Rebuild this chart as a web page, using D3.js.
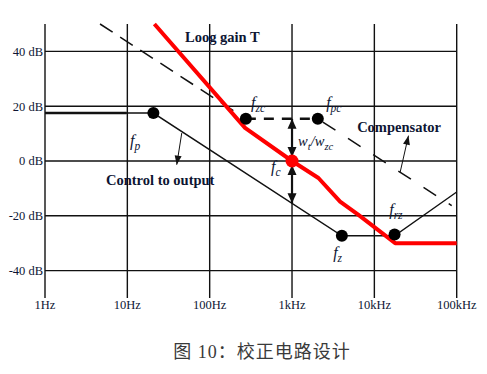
<!DOCTYPE html>
<html><head><meta charset="utf-8">
<script src="https://cdnjs.cloudflare.com/ajax/libs/d3/7.8.5/d3.min.js"></script>
<style>
html,body{margin:0;padding:0;background:#fff;}
svg{display:block;}
</style></head>
<body>
<svg id="c" width="487" height="374"></svg>
<script>
// ---- data ----
const xTicks = [1, 10, 100, 1e3, 1e4, 1e5];
const xTickLabels = ["1Hz", "10Hz", "100Hz", "1kHz", "10kHz", "100kHz"];
const yTicks = [40, 20, 0, -20, -40];
const yTickLabels = ["40 dB", "20 dB", "0 dB", "-20 dB", "-40 dB"];

// control to output (freq Hz, dB)
const controlFreq = [1, 20.7, 4030, 17600, 100000];
const controlDb   = [17.5, 17.5, -27.3, -27.3, -11.3];
const controlThickFreq = [1, 9.8];

// compensator (dashed)
const compFreq = [4.66, 275, 2057, 87000];
const compDb   = [50, 15.4, 15.4, -16.3];

// loop gain T (red)
const loopFreq = [21.3, 269, 1000, 2094, 3837, 6353, 17900, 100000];
const loopDb   = [50, 12.1, 0, -6.2, -14.8, -19.6, -30, -30];

// break points
const dotNames = ["fp", "fzc", "fpc", "fz", "frz"];
const dotFreq  = [20.7, 275, 2057, 4030, 17600];
const dotDb    = [17.5, 15.4, 15.4, -27.3, -26.8];
const fcFreq = 1000, fcDb = 0;

// italic labels
const fLabelSubs = ["p", "zc", "pc", "c", "rz", "z"];
const fLabelFreq = [10.8, 318, 2596, 557, 15140, 3157];
const fLabelDb   = [5.6, 19.5, 19.5, -3.9, -19.6, -35.4];

// bold text labels
const textLabels = ["Loog gain T", "Compensator", "Control to output"];
const textFreq   = [50.2, 6180, 5.5];
const textDb     = [43.6, 10.7, -8.7];

// pointer arrows (from -> to)
const pointerFrom = [[45.8, 10.2], [20570, -4.1]];
const pointerTo   = [[39.8, -1.35], [25960, 9.25]];

const caption = "图 10：校正电路设计";

// ---- scales ----
const svg = d3.select("#c");
const x = d3.scaleLog().domain([1, 1e5]).range([45, 456.7]);
const y = d3.scaleLinear().domain([-50, 50]).range([298, 24]);
const ink = "#111";
const txt = "#0d1533";

// grid
svg.append("g").selectAll("line").data(xTicks).join("line")
  .attr("x1", d => x(d)).attr("x2", d => x(d))
  .attr("y1", y(50)).attr("y2", y(-50))
  .attr("stroke", ink).attr("stroke-width", 1.4);
svg.append("g").selectAll("line").data(yTicks).join("line")
  .attr("x1", x(1)).attr("x2", x(1e5))
  .attr("y1", d => y(d)).attr("y2", d => y(d))
  .attr("stroke", ink).attr("stroke-width", 1.4);

// tick labels
svg.append("g").selectAll("text").data(yTicks).join("text")
  .attr("x", x(1) - 2).attr("y", d => y(d)).attr("dy", "0.35em")
  .attr("text-anchor", "end")
  .attr("font-family", "Liberation Serif, Times New Roman, serif")
  .attr("font-size", 12.5).attr("fill", txt)
  .text((d, i) => yTickLabels[i]);
svg.append("g").selectAll("text").data(xTicks).join("text")
  .attr("x", d => x(d)).attr("y", 309)
  .attr("text-anchor", "middle")
  .attr("font-family", "Liberation Serif, Times New Roman, serif")
  .attr("font-size", 12.5).attr("fill", txt)
  .text((d, i) => xTickLabels[i]);

const line = d3.line().x(d => x(d[0])).y(d => y(d[1]));

// control to output
svg.append("path")
  .attr("d", line(controlFreq.map((f, i) => [f, controlDb[i]])))
  .attr("fill", "none").attr("stroke", ink).attr("stroke-width", 1.4);
svg.append("path")
  .attr("d", line(controlThickFreq.map(f => [f, controlDb[0]])))
  .attr("fill", "none").attr("stroke", ink).attr("stroke-width", 2.6);

// compensator dashed
svg.append("path")
  .attr("d", line([[compFreq[0], compDb[0]], [compFreq[1], compDb[1]]]))
  .attr("fill", "none").attr("stroke", ink).attr("stroke-width", 1.5)
  .attr("stroke-dasharray", "15,9");
svg.append("path")
  .attr("d", line([[compFreq[1], compDb[1]], [compFreq[2], compDb[2]]]))
  .attr("fill", "none").attr("stroke", ink).attr("stroke-width", 2.6)
  .attr("stroke-dasharray", "10,8");
svg.append("path")
  .attr("d", line([[compFreq[2], compDb[2]], [compFreq[3], compDb[3]]]))
  .attr("fill", "none").attr("stroke", ink).attr("stroke-width", 1.5)
  .attr("stroke-dasharray", "0,6,15,9");

// arrowhead helper
function arrowHead(g, x0, y0, x1, y1, len, hw) {
  const dx = x1 - x0, dy = y1 - y0, L = Math.hypot(dx, dy);
  const ux = dx / L, uy = dy / L;
  const bx = x1 - ux * len, by = y1 - uy * len;
  g.append("path")
    .attr("d", `M${x1},${y1}L${bx - uy * hw},${by + ux * hw}L${bx + uy * hw},${by - ux * hw}Z`)
    .attr("fill", ink);
}

// vertical double arrows at fc
const arr = svg.append("g");
const xc = x(fcFreq);
const yComp = y(compDb[1]);
const yFc = y(fcDb);
const ctrlSlope = (controlDb[2] - controlDb[1]) / (Math.log10(controlFreq[2]) - Math.log10(controlFreq[1]));
const ctrlAtFc = controlDb[1] + ctrlSlope * (Math.log10(fcFreq) - Math.log10(controlFreq[1]));
const yCtrl = y(ctrlAtFc);
arr.append("line").attr("x1", xc).attr("x2", xc).attr("y1", yComp).attr("y2", yCtrl)
  .attr("stroke", ink).attr("stroke-width", 2.2);
arrowHead(arr, xc, yFc, xc, yComp, 10, 4.5);
arrowHead(arr, xc, yComp, xc, yFc - 4, 10, 4.5);
arrowHead(arr, xc, yCtrl, xc, yFc + 4, 10, 4.5);
arrowHead(arr, xc, yFc, xc, yCtrl, 10, 4.5);

// loop gain T
svg.append("path")
  .attr("d", line(loopFreq.map((f, i) => [f, loopDb[i]])))
  .attr("fill", "none").attr("stroke", "#ff0000").attr("stroke-width", 4)
  .attr("stroke-linejoin", "round");

// dots
svg.append("g").selectAll("circle").data(dotFreq).join("circle")
  .attr("cx", d => x(d)).attr("cy", (d, i) => y(dotDb[i])).attr("r", 6)
  .attr("fill", "#000");
svg.append("circle").attr("cx", x(fcFreq)).attr("cy", y(fcDb)).attr("r", 6.5)
  .attr("fill", "#ff0000");

// pointer arrows
const ptr = svg.append("g");
pointerFrom.forEach((p, i) => {
  const q = pointerTo[i];
  ptr.append("line").attr("x1", x(p[0])).attr("y1", y(p[1]))
    .attr("x2", x(q[0])).attr("y2", y(q[1]))
    .attr("stroke", ink).attr("stroke-width", 1);
  arrowHead(ptr, x(p[0]), y(p[1]), x(q[0]), y(q[1]), 9, 3.5);
});

// italic f labels
const fl = svg.append("g")
  .attr("font-family", "Liberation Serif, Times New Roman, serif")
  .attr("font-style", "italic").attr("fill", txt);
fLabelSubs.forEach((s, i) => {
  const t = fl.append("text").attr("x", x(fLabelFreq[i])).attr("y", y(fLabelDb[i]))
    .attr("font-size", 16);
  t.append("tspan").text("f");
  t.append("tspan").attr("dy", 4).attr("font-size", 11.5).text(s);
});
// w_t / w_zc
{
  const t = fl.append("text").attr("x", x(1186)).attr("y", y(5.6)).attr("font-size", 14.5);
  t.append("tspan").text("w");
  t.append("tspan").attr("dy", 4).attr("font-size", 10.5).text("t");
  t.append("tspan").attr("dy", -4).text("/w");
  t.append("tspan").attr("dy", 4).attr("font-size", 10.5).text("zc");
}

// bold labels
svg.append("g").selectAll("text").data(textLabels).join("text")
  .attr("x", (d, i) => x(textFreq[i])).attr("y", (d, i) => y(textDb[i]))
  .attr("font-family", "Liberation Serif, Times New Roman, serif")
  .attr("font-weight", "bold").attr("font-size", 14.5).attr("fill", txt)
  .text(d => d);

// caption
svg.append("text").attr("x", 262).attr("y", 358).attr("text-anchor", "middle")
  .attr("font-family", "Liberation Serif, 'Noto Sans CJK SC', serif")
  .attr("font-size", 18).attr("letter-spacing", 1).attr("fill", "#3a3a3a")
  .text(caption);
</script>
</body></html>
